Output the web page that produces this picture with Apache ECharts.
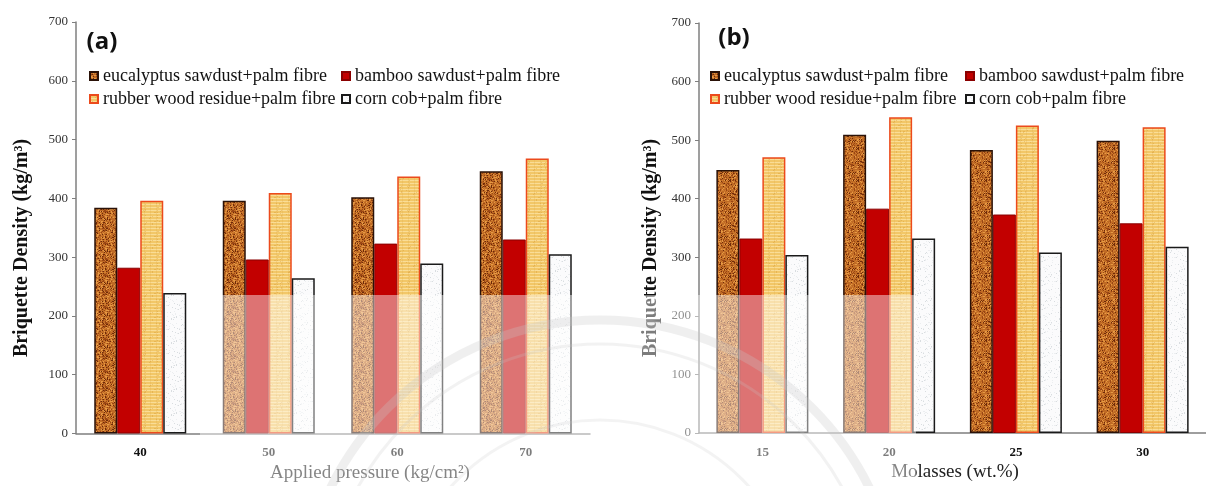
<!DOCTYPE html>
<html>
<head>
<meta charset="utf-8">
<script src="https://cdn.jsdelivr.net/npm/echarts@6/dist/echarts.min.js"></script>
<style>
  html, body { margin: 0; padding: 0; background: #ffffff; }
  #chart { width: 1206px; height: 486px; }
</style>
</head>
<body>
<div id="chart"></div>
<script>
// Briquette density of palm-fibre blends: (a) vs applied pressure, (b) vs molasses content
const seriesNames = [
  'eucalyptus sawdust+palm fibre',
  'bamboo sawdust+palm fibre',
  'rubber wood residue+palm fibre',
  'corn cob+palm fibre'
];

// Panel (a): applied pressure (kg/cm²)
const pressureLabels = ['40', '50', '60', '70'];
const pressureEucalyptus = [384, 396, 402, 446];
const pressureBamboo     = [282, 296, 323, 330];
const pressureRubber     = [396, 409, 437, 468];
const pressureCorn       = [239, 264, 289, 305];

// Panel (b): molasses (wt.%)
const molassesLabels = ['15', '20', '25', '30'];
const molassesEucalyptus = [449, 509, 483, 499];
const molassesBamboo     = [332, 383, 373, 358];
const molassesRubber     = [471, 539, 525, 522];
const molassesCorn       = [304, 332, 308, 318];

// Density axis ticks
const densityMin = 0;
const densityMax = 700;
const densityStep = 100;

const SERIF = '"Liberation Serif", "Times New Roman", serif';

// ---- fill textures -------------------------------------------------------
function grain(i, j, s) {
  const v = Math.sin(i * 12.9898 + j * 78.233 + s * 37.719) * 43758.5453;
  return v - Math.floor(v);
}
function makeTexture(w, h, paint) {
  const c = document.createElement('canvas');
  c.width = w; c.height = h;
  paint(c.getContext('2d'), w, h);
  return c;
}
// mottled sawdust
const woodTexture = makeTexture(32, 32, (ctx, w, h) => {
  ctx.fillStyle = '#bf6a24';
  ctx.fillRect(0, 0, w, h);
  for (let i = 0; i < w; i++) {
    for (let j = 0; j < h; j++) {
      const g = grain(i, j, 1);
      let c = null;
      if (g < 0.09) c = '#6e2a09';
      else if (g < 0.24) c = '#9a4614';
      else if (g > 0.86) c = '#e69a45';
      else if (g > 0.68) c = '#d17e30';
      if (c) { ctx.fillStyle = c; ctx.fillRect(i, j, 1, 1); }
    }
  }
});
// fine striped straw
const rubberTexture = makeTexture(24, 24, (ctx, w, h) => {
  ctx.fillStyle = '#f2c768';
  ctx.fillRect(0, 0, w, h);
  for (let j = 0; j < h; j += 3) {
    ctx.fillStyle = 'rgba(252,228,165,0.75)';
    ctx.fillRect(0, j, w, 1);
  }
  for (let i = 0; i < w; i += 6) {
    ctx.fillStyle = 'rgba(220,168,70,0.22)';
    ctx.fillRect(i, 0, 1, h);
  }
  for (let i = 0; i < w; i++) {
    for (let j = 0; j < h; j++) {
      const g = grain(i, j, 2);
      if (g > 0.92) { ctx.fillStyle = 'rgba(212,150,50,0.35)'; ctx.fillRect(i, j, 1, 1); }
    }
  }
});
// pale stipple
const cornTexture = makeTexture(24, 24, (ctx, w, h) => {
  ctx.fillStyle = '#fbfbfc';
  ctx.fillRect(0, 0, w, h);
  for (let i = 0; i < w; i++) {
    for (let j = 0; j < h; j++) {
      const g = grain(i, j, 3);
      if (g > 0.93) { ctx.fillStyle = '#d9dde0'; ctx.fillRect(i, j, 1, 1); }
      else if (g > 0.85) { ctx.fillStyle = '#eceef0'; ctx.fillRect(i, j, 1, 1); }
    }
  }
});

const seriesStyles = [
  { color: { image: woodTexture, repeat: 'repeat' },   borderColor: '#2a1208', borderWidth: 1.5 },
  { color: '#c20000',                                  borderColor: '#8a0000', borderWidth: 1 },
  { color: { image: rubberTexture, repeat: 'repeat' }, borderColor: '#ec4a1c', borderWidth: 1.5 },
  { color: { image: cornTexture, repeat: 'repeat' },   borderColor: '#1a1a1a', borderWidth: 1.5 }
];

function panelSeries(axisIndex, columns) {
  return columns.map((values, k) => ({
    name: seriesNames[k],
    type: 'bar',
    xAxisIndex: axisIndex,
    yAxisIndex: axisIndex,
    data: values,
    barWidth: 23,
    barGap: '0%',
    itemStyle: seriesStyles[k],
    emphasis: { disabled: true },
    animation: false
  }));
}

function categoryAxis(gridIndex, labels) {
  return {
    type: 'category',
    gridIndex: gridIndex,
    data: labels,
    axisLine: { lineStyle: { color: '#7f7f7f', width: 1.5 } },
    axisTick: { show: false },
    axisLabel: { fontFamily: SERIF, fontWeight: 'bold', fontSize: 13, color: '#111', margin: 13 }
  };
}

function densityAxis(gridIndex) {
  return {
    type: 'value',
    gridIndex: gridIndex,
    min: densityMin,
    max: densityMax,
    interval: densityStep,
    axisLine: { show: true, lineStyle: { color: '#7f7f7f', width: 1.5 } },
    axisTick: { show: true, length: 4, lineStyle: { color: '#7f7f7f', width: 1 } },
    splitLine: { show: false },
    axisLabel: { fontFamily: SERIF, fontSize: 13, color: '#333', margin: 8 }
  };
}

function legendColumn(left, items) {
  return {
    left: left,
    top: 67,
    orient: 'vertical',
    padding: 0,
    itemGap: 5,
    itemWidth: 8,
    itemHeight: 8,
    icon: 'rect',
    selectedMode: false,
    data: items,
    textStyle: { fontFamily: SERIF, fontSize: 18, color: '#111', lineHeight: 18 }
  };
}

function textItem(x, y, text, font, rotation, color) {
  return {
    type: 'text',
    x: x, y: y,
    rotation: rotation || 0,
    silent: true,
    style: {
      text: text,
      font: font,
      fill: color || '#111',
      align: 'center', verticalAlign: 'middle',
      textAlign: 'center', textVerticalAlign: 'middle'
    }
  };
}

const chart = echarts.init(document.getElementById('chart'), null, { renderer: 'canvas' });

chart.setOption({
  backgroundColor: '#ffffff',
  animation: false,
  grid: [
    { left: 76, top: 22, width: 514, height: 411.5, containLabel: false },
    { left: 699, top: 23, width: 513, height: 410, containLabel: false }
  ],
  xAxis: [categoryAxis(0, pressureLabels), categoryAxis(1, molassesLabels)],
  yAxis: [densityAxis(0), densityAxis(1)],
  legend: [
    legendColumn(89, [seriesNames[0], seriesNames[2]]),
    legendColumn(341, [seriesNames[1], seriesNames[3]]),
    legendColumn(710, [seriesNames[0], seriesNames[2]]),
    legendColumn(965, [seriesNames[1], seriesNames[3]])
  ],
  series: [
    ...panelSeries(0, [pressureEucalyptus, pressureBamboo, pressureRubber, pressureCorn]),
    ...panelSeries(1, [molassesEucalyptus, molassesBamboo, molassesRubber, molassesCorn])
  ],
  graphic: { elements: [
    textItem(102, 42, '(a)', 'bold 24px "Open Sans", sans-serif'),
    textItem(734, 38, '(b)', 'bold 24px "Open Sans", sans-serif'),
    textItem(22, 248, 'Briquette Density (kg/m³)', 'bold 20px ' + SERIF, Math.PI / 2),
    textItem(651, 248, 'Briquette Density (kg/m³)', 'bold 20px ' + SERIF, Math.PI / 2),
    textItem(370, 473, 'Applied pressure (kg/cm²)', '19px ' + SERIF, 0, '#222'),
    textItem(955, 472, 'Molasses (wt.%)', '19px ' + SERIF, 0, '#222'),
    // faint emblem rings drawn across the lower middle of the page
    { type: 'circle', z: 100, silent: true, shape: { cx: 600, cy: 620, r: 300 },
      style: { fill: 'none', stroke: 'rgba(150,150,150,0.28)', lineWidth: 9 } },
    { type: 'circle', z: 100, silent: true, shape: { cx: 600, cy: 620, r: 276 },
      style: { fill: 'none', stroke: 'rgba(150,150,150,0.22)', lineWidth: 3 } },
    { type: 'circle', z: 100, silent: true, shape: { cx: 600, cy: 620, r: 200 },
      style: { fill: 'none', stroke: 'rgba(150,150,150,0.2)', lineWidth: 3 } },
    // white veil over the lower middle band
    { type: 'rect', z: 101, silent: true, shape: { x: 200, y: 295, width: 716, height: 191 },
      style: { fill: 'rgba(255,255,255,0.45)' } }
  ] }
});
</script>
</body>
</html>
